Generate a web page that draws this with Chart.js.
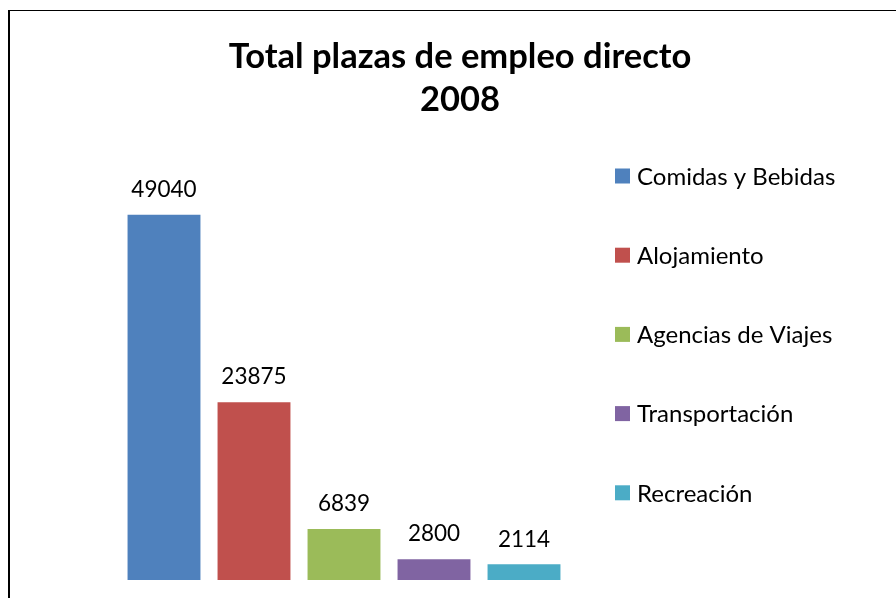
<!DOCTYPE html>
<html>
<head>
<meta charset="utf-8">
<script src="https://cdn.jsdelivr.net/npm/chart.js@4/dist/chart.umd.min.js"></script>
<style>
  html, body { margin: 0; padding: 0; background: #fff; }
  #wrap { width: 896px; height: 598px; }
</style>
</head>
<body>
<div id="wrap"><canvas id="chart" width="896" height="598"></canvas></div>
<script>
const titleLines = ['Total plazas de empleo directo', '2008'];
const sectors = ['Comidas y Bebidas', 'Alojamiento', 'Agencias de Viajes', 'Transportación', 'Recreación'];
const plazas = [49040, 23875, 6839, 2800, 2114];
const colors = ['#4F81BD', '#C0504D', '#9BBB59', '#8064A2', '#4BACC6'];
const yMax = 60000;

const FONT = 'Lato, "Open Sans", sans-serif';

// outer frame of the chart object (only top and left edges show)
const framePlugin = {
  id: 'frame',
  beforeDraw(chart) {
    const ctx = chart.ctx;
    ctx.save();
    ctx.fillStyle = '#000';
    ctx.fillRect(8, 10, chart.width - 8, 1);
    ctx.fillRect(8, 10, 2, chart.height - 10);
    ctx.restore();
  },
};

// value above each bar
const valueLabels = {
  id: 'valueLabels',
  afterDatasetsDraw(chart) {
    const ctx = chart.ctx;
    ctx.save();
    ctx.font = '22.5px ' + FONT;
    ctx.fillStyle = '#000';
    ctx.textAlign = 'center';
    ctx.textBaseline = 'middle';
    chart.data.datasets.forEach((ds, i) => {
      const meta = chart.getDatasetMeta(i);
      meta.data.forEach((bar, j) => {
        ctx.fillText(String(ds.data[j]), bar.x, bar.y - 25);
      });
    });
    ctx.restore();
  },
};

// legend in the right column, spaced like the original
const sideLegend = {
  id: 'sideLegend',
  afterDraw(chart) {
    const ctx = chart.ctx;
    const x = chart.chartArea.right + 46;
    const y0 = 176;
    const step = 79.2;
    const box = 15;
    ctx.save();
    ctx.font = '24px ' + FONT;
    ctx.textAlign = 'left';
    ctx.textBaseline = 'middle';
    chart.data.datasets.forEach((ds, i) => {
      const y = y0 + i * step;
      ctx.fillStyle = ds.backgroundColor;
      ctx.fillRect(x, y - box / 2, box, box);
      ctx.fillStyle = '#000';
      ctx.fillText(ds.label, x + box + 7, y + 1);
    });
    ctx.restore();
  },
};

const hiddenAxis = (width, position) => ({
  display: true,
  position,
  ticks: { display: false },
  grid: { display: false },
  border: { display: false },
  afterFit(scale) { scale.width = width; },
});

const datasets = sectors.map((name, i) => ({
  label: name,
  data: [plazas[i]],
  backgroundColor: colors[i],
  borderWidth: 0,
  categoryPercentage: 1.0,
  barPercentage: 0.81,
}));

new Chart(document.getElementById('chart').getContext('2d'), {
  type: 'bar',
  data: { labels: [''], datasets },
  options: {
    responsive: false,
    animation: false,
    layout: { padding: { left: 24, right: 0, top: 10, bottom: 18 } },
    plugins: {
      legend: { display: false },
      tooltip: { enabled: false },
      title: {
        display: true,
        text: titleLines,
        color: '#000',
        font: { family: FONT, size: 34.5, weight: 'bold', lineHeight: 1.246 },
        padding: { top: 25.5, bottom: 11.7 },
      },
    },
    scales: {
      x: { display: false },
      y: { ...hiddenAxis(95, 'left'), min: 0, max: yMax },
      spacer: { type: 'linear', ...hiddenAxis(327, 'right') },
    },
  },
  plugins: [framePlugin, valueLabels, sideLegend],
});
</script>
</body>
</html>
